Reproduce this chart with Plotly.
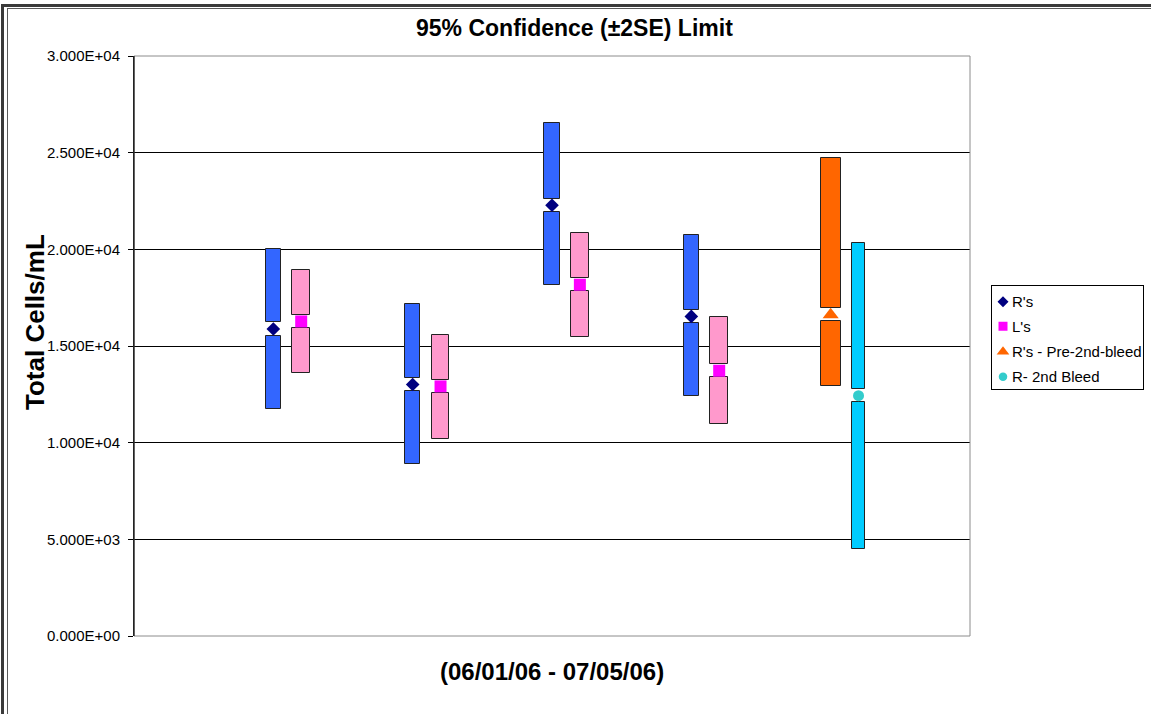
import plotly.graph_objects as go

# ---- data: mean and 95% (±2SE) limits of total cell counts ----
series_names = ["R's", "L's", "R's - Pre-2nd-bleed", "R- 2nd Bleed"]
r_groups = [1, 2, 3, 4]
r_mean = [15880, 13010, 22280, 16530]
r_low = [11760, 8900, 18180, 12390]
r_high = [20030, 17180, 26520, 20730]

l_groups = [1, 2, 3, 4]
l_mean = [16270, 12910, 18170, 13720]
l_low = [13620, 10210, 15490, 10970]
l_high = [18930, 15570, 20840, 16500]

pre_groups = [5]
pre_mean = [16620]
pre_low = [12950]
pre_high = [24710]

bleed_groups = [5]
bleed_mean = [12430]
bleed_low = [4490]
bleed_high = [20340]

y_ticks = [0, 5000, 10000, 15000, 20000, 25000, 30000]

# ---- layout geometry (pixels) ----
W, H = 1151, 714
L, T = 134, 56
PLOT_R = 970
PH = 580
PW = W - L
Y_MAX = 30000
HALF_GAP = 6.6 * Y_MAX / PH  # gap around each marker, in data units


def px(xpix):
    return (xpix - L) / PW


def py(ypix):
    return (T + PH - ypix) / PH


FONT = "Liberation Sans, Arial, sans-serif"

styles = [
    dict(offset=0.0, width=0.108, fill="#3366FF", sym="diamond", msize=10.5, mcolor="#000080", lsize=8.5),
    dict(offset=0.2, width=0.126, fill="#FF99CC", sym="square", msize=12, mcolor="#FF00FF", lsize=9),
    dict(offset=0.0, width=0.142, fill="#FF6600", sym="triangle-up", msize=14, mcolor="#FF6600", lsize=11),
    dict(offset=0.2, width=0.088, fill="#00CCFF", sym="circle", msize=11, mcolor="#33CCCC", lsize=8.5),
]
datasets = [
    (r_groups, r_mean, r_low, r_high),
    (l_groups, l_mean, l_low, l_high),
    (pre_groups, pre_mean, pre_low, pre_high),
    (bleed_groups, bleed_mean, bleed_low, bleed_high),
]

fig = go.Figure()

for name, st, (grp, mean, low, high) in zip(series_names, styles, datasets):
    xs = [g + st["offset"] for g in grp]
    lower_top = [m - HALF_GAP for m in mean]
    upper_base = [m + HALF_GAP for m in mean]
    # lower half of the confidence interval
    fig.add_trace(go.Bar(
        x=xs, base=low, y=[t - lo for t, lo in zip(lower_top, low)],
        width=st["width"], marker=dict(color=st["fill"], line=dict(color="#222222", width=1)),
        showlegend=False, hoverinfo="skip"))
    # upper half of the confidence interval
    fig.add_trace(go.Bar(
        x=xs, base=upper_base, y=[hi - b for hi, b in zip(high, upper_base)],
        width=st["width"], marker=dict(color=st["fill"], line=dict(color="#222222", width=1)),
        showlegend=False, hoverinfo="skip"))
    # mean marker
    fig.add_trace(go.Scatter(
        x=xs, y=mean, mode="markers", name=name, showlegend=False,
        marker=dict(symbol=st["sym"], size=st["msize"], color=st["mcolor"], line=dict(width=0))))

# hand-built legend in its own small axes
leg_rows = [15.7, 40.3, 65.8, 90.8]
for name, st, ry in zip(series_names, styles, leg_rows):
    fig.add_trace(go.Scatter(
        x=[11], y=[ry], mode="markers", xaxis="x2", yaxis="y2", showlegend=False,
        marker=dict(symbol=st["sym"], size=st["lsize"], color=st["mcolor"], line=dict(width=0)),
        hoverinfo="skip"))
    fig.add_annotation(x=18, y=ry, xref="x2", yref="y2", text=name, showarrow=False,
                       xanchor="left", yanchor="middle",
                       font=dict(family=FONT, size=15, color="#000000"))

fig.update_layout(
    width=W, height=H,
    margin=dict(l=L, r=0, t=T, b=H - T - PH, autoexpand=False),
    paper_bgcolor="white", plot_bgcolor="white",
    barmode="overlay", bargap=0,
    showlegend=False,
    xaxis=dict(domain=[0, px(PLOT_R)], range=[0, 6], visible=False, fixedrange=True),
    yaxis=dict(
        range=[0, Y_MAX], tickvals=y_ticks, ticktext=[f"{v:.3E}" for v in y_ticks],
        showgrid=True, gridcolor="#000000", gridwidth=1, zeroline=False,
        showline=True, linecolor="#000000", linewidth=1,
        ticks="outside", ticklen=5, tickcolor="#000000", tickwidth=1,
        ticklabelstandoff=5,
        tickfont=dict(family=FONT, size=15, color="#000000"),
    ),
    xaxis2=dict(domain=[px(992), px(1143)], range=[0, 151], anchor="y2",
                showline=True, mirror=True, linecolor="#000000", linewidth=1,
                showgrid=False, zeroline=False, showticklabels=False, ticks=""),
    yaxis2=dict(domain=[py(388.5), py(286)], range=[102.5, 0], anchor="x2",
                showline=True, mirror=True, linecolor="#000000", linewidth=1,
                showgrid=False, zeroline=False, showticklabels=False, ticks=""),
)

# plot-area border (grey) drawn over the outer gridlines
fig.add_shape(type="rect", xref="paper", yref="paper",
              x0=px(L), x1=px(PLOT_R), y0=py(T + PH), y1=py(T),
              line=dict(color="#8C8C8C", width=1), layer="above")
# re-draw the black value axis on top of the border
fig.add_shape(type="line", xref="paper", yref="paper",
              x0=0, x1=0, y0=0, y1=1, line=dict(color="#000000", width=1), layer="above")

# window frame along the top and left edges
frame = [
    dict(x0=2.5, x1=2.5, y0=4, y1=H + 2, w=3, c="#3A3A3A"),
    dict(x0=1, x1=W + 2, y0=5.5, y1=5.5, w=3, c="#3A3A3A"),
    dict(x0=7.5, x1=7.5, y0=8, y1=H + 2, w=1, c="#5A5A5A"),
    dict(x0=7, x1=W + 2, y0=8.5, y1=8.5, w=1, c="#5A5A5A"),
]
for f in frame:
    fig.add_shape(type="line", xref="paper", yref="paper",
                  x0=px(f["x0"]), x1=px(f["x1"]), y0=py(f["y0"]), y1=py(f["y1"]),
                  line=dict(color=f["c"], width=f["w"]), layer="above")

# titles
fig.add_annotation(text="<b>95% Confidence (±2SE) Limit</b>", xref="paper", yref="paper",
                   x=px(574.5), y=py(28), showarrow=False, xanchor="center", yanchor="middle",
                   font=dict(family=FONT, size=23, color="#000000"))
fig.add_annotation(text="<b>Total Cells/mL</b>", xref="paper", yref="paper",
                   x=px(35), y=py(322), showarrow=False, xanchor="center", yanchor="middle",
                   textangle=-90, font=dict(family=FONT, size=26, color="#000000"))
fig.add_annotation(text="<b>(06/01/06 - 07/05/06)</b>", xref="paper", yref="paper",
                   x=px(551.5), y=py(671), showarrow=False, xanchor="center", yanchor="middle",
                   font=dict(family=FONT, size=24, color="#000000"))

fig.write_html("out.html")
